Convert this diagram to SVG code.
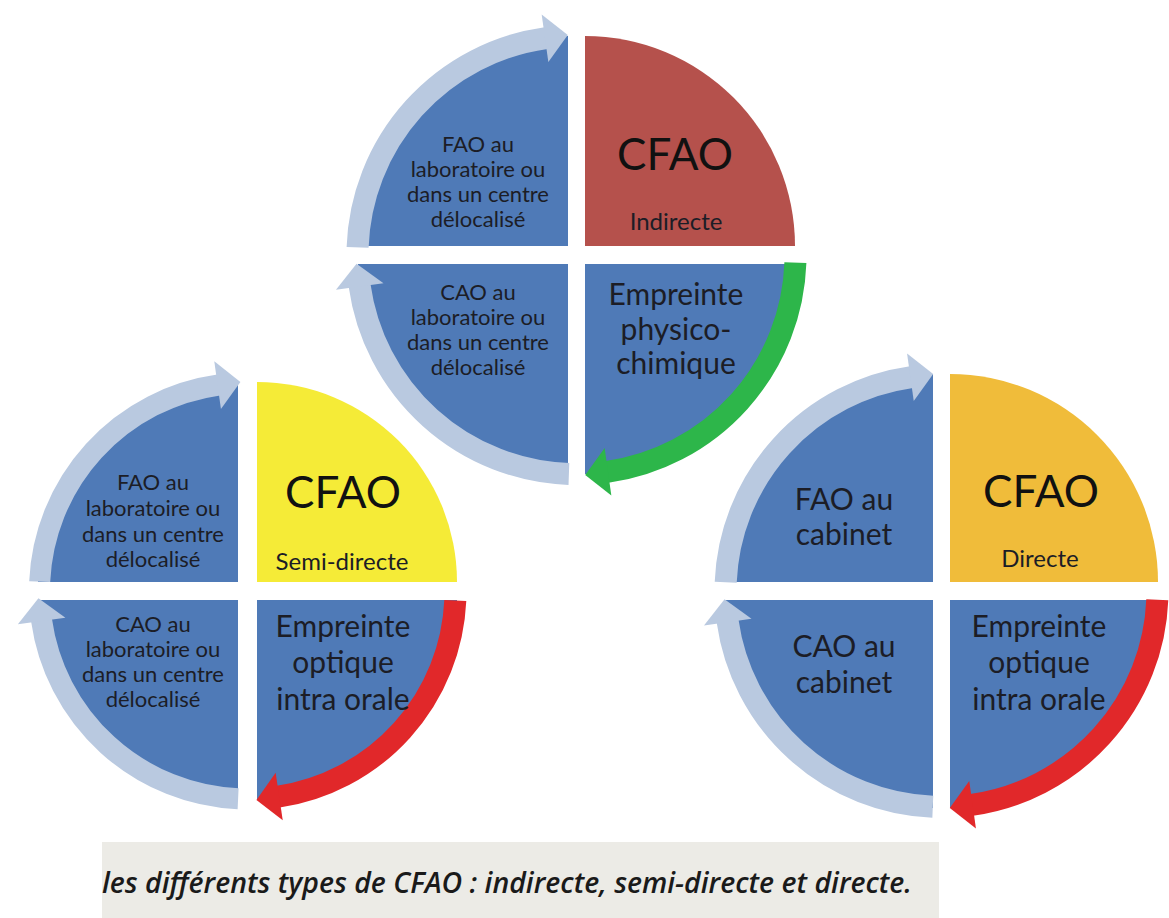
<svg xmlns="http://www.w3.org/2000/svg" width="1169" height="918" viewBox="0 0 1169 918">
<style>
.q{fill:#4f7ab7}
.ring{fill:none;stroke:#b9c9e0;stroke-linecap:butt}
.grn{fill:none;stroke:#2db64a}
.red{fill:none;stroke:#e1282a}
text{font-family:Lato,"Open Sans","Liberation Sans",sans-serif;text-anchor:middle;fill:#1c1d26}
.s{font-size:22px}
.m{font-size:30px}
.big{font-size:44px;fill:#111}
.sub{font-size:24px}
.cap{font-family:"Open Sans","Liberation Sans",sans-serif;font-style:italic;font-weight:600;font-size:29px;text-anchor:start;fill:#1a1a1a}
</style>
<defs>
<marker id="hl" markerUnits="userSpaceOnUse" viewBox="-2 -26 26 52" markerWidth="26" markerHeight="52" refX="0" refY="0" orient="auto" overflow="visible"><path d="M-1,-24 L22,0 L-1,24 Z" fill="#b9c9e0"/></marker>
<marker id="hg" markerUnits="userSpaceOnUse" viewBox="-2 -26 26 52" markerWidth="26" markerHeight="52" refX="0" refY="0" orient="auto" overflow="visible"><path d="M-1,-24 L22,0 L-1,24 Z" fill="#2db64a"/></marker>
<marker id="hr" markerUnits="userSpaceOnUse" viewBox="-2 -26 26 52" markerWidth="26" markerHeight="52" refX="0" refY="0" orient="auto" overflow="visible"><path d="M-1,-24 L22,0 L-1,24 Z" fill="#e1282a"/></marker>
</defs>
<rect width="1169" height="918" fill="#ffffff"/>

<!-- Top circle: CFAO Indirecte -->
<g id="indirecte">
<path id="ind-fao" class="q" d="M568,246 L568,36 A210,210 0 0 0 358,246 Z"/>
<path id="ind-title" d="M585,246 L585,36 A210,210 0 0 1 795,246 Z" fill="#b5514c"/>
<path id="ind-cao" class="q" d="M568,264 L358,264 A210,210 0 0 0 568,474 Z"/>
<path id="ind-emp" class="q" d="M585,264 L585,474 A210,210 0 0 0 795,264 Z"/>
</g>

<!-- Left circle: CFAO Semi-directe -->
<g id="semi-directe">
<path id="sd-fao" class="q" d="M238,582 L238,382 A200,200 0 0 0 38,582 Z"/>
<path id="sd-title" d="M257,582 L257,382 A200,200 0 0 1 457,582 Z" fill="#f5eb37"/>
<path id="sd-cao" class="q" d="M238,600 L38,600 A200,200 0 0 0 238,800 Z"/>
<path id="sd-emp" class="q" d="M257,600 L257,800 A200,200 0 0 0 457,600 Z"/>
</g>

<!-- Right circle: CFAO Directe -->
<g id="directe">
<path id="d-fao" class="q" d="M933,582 L933,374 A208,208 0 0 0 725,582 Z"/>
<path id="d-title" d="M950,582 L950,374 A208,208 0 0 1 1158,582 Z" fill="#f0bc3a"/>
<path id="d-cao" class="q" d="M933,600 L725,600 A208,208 0 0 0 933,808 Z"/>
<path id="d-emp" class="q" d="M950,600 L950,808 A208,208 0 0 0 1158,600 Z"/>
</g>

<g id="connectors">
<!-- top circle c=(576.5,255) r=219 -->
<path class="ring" stroke-width="22" d="M568.9,473.9 A219,219 0 0 1 359.6,285.5" marker-end="url(#hl)"/>
<path class="ring" stroke-width="22" d="M357.6,247.4 A219,219 0 0 1 546.0,38.1" marker-end="url(#hl)"/>
<path class="grn" stroke-width="22" d="M795.4,262.6 A219,219 0 0 1 607.0,471.9" marker-end="url(#hg)"/>
<!-- left circle c=(247.5,591) r=208 -->
<path class="ring" stroke-width="21" d="M238.1,798.8 A208,208 0 0 1 41.5,620.0" marker-end="url(#hl)"/>
<path class="ring" stroke-width="21" d="M39.7,581.6 A208,208 0 0 1 218.6,385.0" marker-end="url(#hl)"/>
<path class="red" stroke-width="22" d="M455.3,600.4 A208,208 0 0 1 278.2,796.7" marker-end="url(#hr)"/>
<!-- right circle c=(941.5,591) r=216 -->
<path class="ring" stroke-width="22" d="M932.8,806.8 A216,216 0 0 1 727.6,621.1" marker-end="url(#hl)"/>
<path class="ring" stroke-width="22" d="M725.7,582.3 A216,216 0 0 1 911.4,377.1" marker-end="url(#hl)"/>
<path class="red" stroke-width="22" d="M1157.3,599.7 A216,216 0 0 1 971.6,804.9" marker-end="url(#hr)"/>
</g>

<g id="labels-indirecte">
<text class="s" x="478"><tspan x="478" y="152">FAO au</tspan><tspan x="478" y="177">laboratoire ou</tspan><tspan x="478" y="202">dans un centre</tspan><tspan x="478" y="227">délocalisé</tspan></text>
<text class="big" x="675" y="170">CFAO</text>
<text class="sub" x="676" y="230">Indirecte</text>
<text class="s" x="478"><tspan x="478" y="300">CAO au</tspan><tspan x="478" y="325">laboratoire ou</tspan><tspan x="478" y="350">dans un centre</tspan><tspan x="478" y="375">délocalisé</tspan></text>
<text class="m" x="676"><tspan x="676" y="305">Empreinte</tspan><tspan x="676" y="340">physico-</tspan><tspan x="676" y="374">chimique</tspan></text>
</g>

<g id="labels-semi-directe">
<text class="s" x="153"><tspan x="153" y="490">FAO au</tspan><tspan x="153" y="516">laboratoire ou</tspan><tspan x="153" y="542">dans un centre</tspan><tspan x="153" y="567">délocalisé</tspan></text>
<text class="big" x="343" y="508">CFAO</text>
<text class="sub" x="342" y="570">Semi-directe</text>
<text class="s" x="153"><tspan x="153" y="632">CAO au</tspan><tspan x="153" y="657">laboratoire ou</tspan><tspan x="153" y="682">dans un centre</tspan><tspan x="153" y="707">délocalisé</tspan></text>
<text class="m" x="343"><tspan x="343" y="637">Empreinte</tspan><tspan x="343" y="673">optique</tspan><tspan x="343" y="710">intra orale</tspan></text>
</g>

<g id="labels-directe">
<text class="m" x="844"><tspan x="844" y="510">FAO au</tspan><tspan x="844" y="545">cabinet</tspan></text>
<text class="big" x="1041" y="507">CFAO</text>
<text class="sub" x="1040" y="567">Directe</text>
<text class="m" x="844"><tspan x="844" y="657">CAO au</tspan><tspan x="844" y="693">cabinet</tspan></text>
<text class="m" x="1039"><tspan x="1039" y="637">Empreinte</tspan><tspan x="1039" y="673">optique</tspan><tspan x="1039" y="710">intra orale</tspan></text>
</g>

<g id="caption">
<rect x="102" y="842" width="837" height="76" fill="#ecebe6"/>
<text class="cap" x="102" y="893" textLength="810" lengthAdjust="spacingAndGlyphs">les différents types de CFAO : indirecte, semi-directe et directe.</text>
</g>
</svg>
